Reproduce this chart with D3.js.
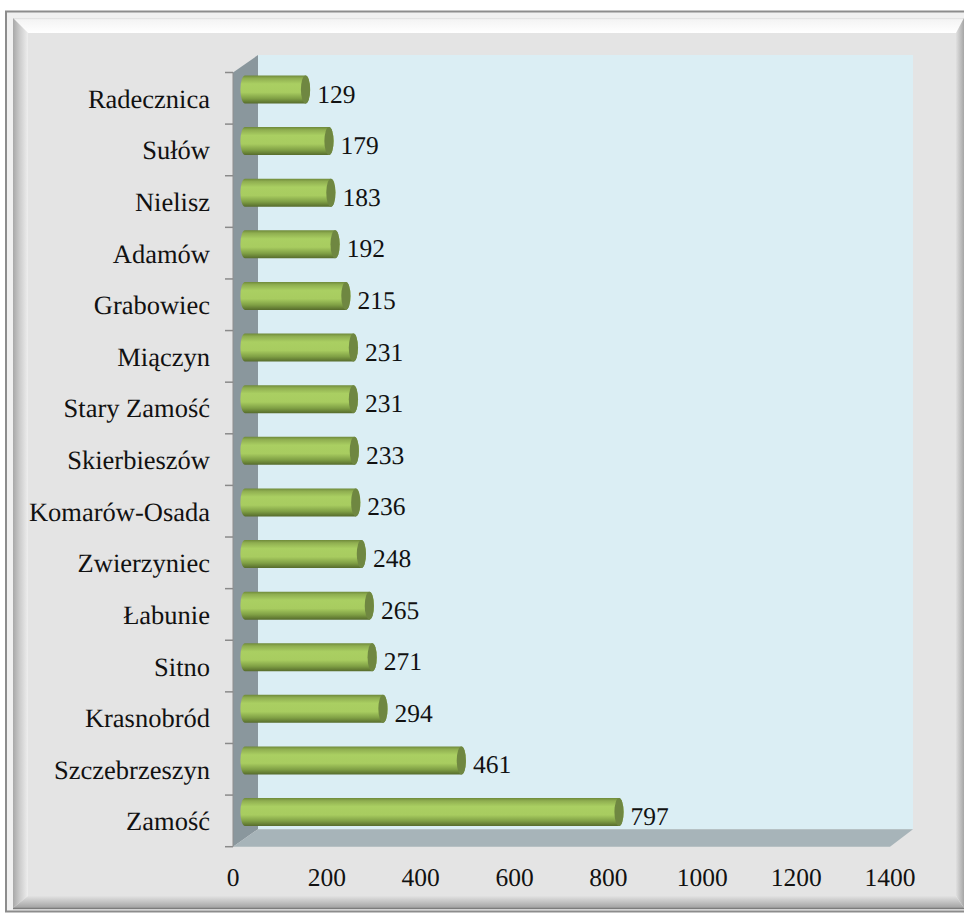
<!DOCTYPE html>
<html>
<head>
<meta charset="utf-8">
<script src="https://cdnjs.cloudflare.com/ajax/libs/d3/7.8.5/d3.min.js"></script>
<style>
  html, body { margin: 0; padding: 0; background: #fff; }
  svg { display: block; }
  text { font-family: "Liberation Serif", serif; font-size: 25.5px; fill: #111; font-kerning: none; text-rendering: geometricPrecision; }
  .cat-label { font-size: 26.5px; }
</style>
</head>
<body>
<svg id="chart" width="964" height="914"></svg>
<script>
const categories = ["Radecznica", "Sułów", "Nielisz", "Adamów", "Grabowiec", "Miączyn", "Stary Zamość",
  "Skierbieszów", "Komarów-Osada", "Zwierzyniec", "Łabunie", "Sitno", "Krasnobród", "Szczebrzeszyn", "Zamość"];
const values = [129, 179, 183, 192, 215, 231, 231, 233, 236, 248, 265, 271, 294, 461, 797];
const xTicks = [0, 200, 400, 600, 800, 1000, 1200, 1400];

const svg = d3.select("#chart");
const defs = svg.append("defs");

function gradient(id, horizontal, stops) {
  const g = defs.append("linearGradient").attr("id", id)
    .attr("x1", 0).attr("y1", 0)
    .attr("x2", horizontal ? 1 : 0).attr("y2", horizontal ? 0 : 1);
  stops.forEach(([o, c]) => g.append("stop").attr("offset", o).attr("stop-color", c));
}

gradient("bevelLeft", true, [[0, "#a8a8a8"], [0.5, "#cfcfcf"], [1, "#eeeeee"]]);
gradient("bevelTop", false, [[0, "#dcdcdc"], [0.12, "#f4f4f4"], [1, "#ffffff"]]);
gradient("bevelRight", true, [[0, "#e0e0e0"], [1, "#a6a6a6"]]);
gradient("bevelBottom", false, [[0, "#e2e2e2"], [1, "#a2a2a2"]]);
gradient("barFill", false, [[0, "#6f8a3a"], [0.1, "#8fae50"], [0.3, "#aacf62"], [0.6, "#a8cc60"], [0.82, "#80a045"], [1, "#566b2c"]]);

// frame
const frame = svg.append("g");
frame.append("rect").attr("x", 6).attr("y", 11.5).attr("width", 960).attr("height", 900)
  .attr("fill", "#f0f0f0").attr("stroke", "#8c8c8c").attr("stroke-width", 2);
const L = 13, T = 18, R = 964, B = 908, iL = 28, iT = 33, iR = 956, iB = 896;
frame.append("polygon").attr("points", `${L},${T} ${R},${T} ${iR},${iT} ${iL},${iT}`).attr("fill", "url(#bevelTop)");
frame.append("polygon").attr("points", `${L},${T} ${iL},${iT} ${iL},${iB} ${L},${B}`).attr("fill", "url(#bevelLeft)");
frame.append("polygon").attr("points", `${R},${T} ${iR},${iT} ${iR},${iB} ${R},${B}`).attr("fill", "url(#bevelRight)");
frame.append("polygon").attr("points", `${L},${B} ${iL},${iB} ${iR},${iB} ${R},${B}`).attr("fill", "url(#bevelBottom)");
frame.append("rect").attr("x", iL).attr("y", iT).attr("width", iR - iL).attr("height", iB - iT).attr("fill", "#e4e4e4");
frame.append("line").attr("x1", L).attr("x2", R).attr("y1", 908.5).attr("y2", 908.5).attr("stroke", "#7c7c7c").attr("stroke-width", 1.5);

// scales: front plane of the 3D box, the bars sit depth px inside it
const x = d3.scaleLinear().domain([0, 1400]).range([233, 890]);
const y = d3.scaleBand().domain(categories).range([72.5, 846.7]);
const depthX = 25, depthY = 17.5, backRight = 23;
const barDx = 12, barDy = -8.8, barH = 28, capRx = 4.6;

// 3D walls
const plot = svg.append("g");
const x0 = x(0), x1 = x(1400), yTop = y.range()[0], yBot = y.range()[1];
plot.append("rect").attr("x", x0 + depthX).attr("y", yTop - depthY)
  .attr("width", x1 + backRight - x0 - depthX).attr("height", yBot - yTop).attr("fill", "#dbeef4");
plot.append("polygon")
  .attr("points", `${x0},${yTop} ${x0 + depthX},${yTop - depthY} ${x0 + depthX},${yBot - depthY} ${x0},${yBot}`)
  .attr("fill", "#8a979d");
plot.append("polygon")
  .attr("points", `${x0},${yBot} ${x0 + depthX},${yBot - depthY} ${x1 + backRight},${yBot - depthY} ${x1},${yBot}`)
  .attr("fill", "#a7b4b9");

// ticks on the category axis
plot.append("line").attr("x1", x0).attr("x2", x0).attr("y1", yTop).attr("y2", yBot).attr("stroke", "#8f8f8f");
plot.selectAll(".cat-tick")
  .data(categories.map((c) => y(c)).concat([yBot]))
  .join("line")
  .attr("class", "cat-tick")
  .attr("x1", x0 - 8).attr("x2", x0)
  .attr("y1", (d) => d).attr("y2", (d) => d)
  .attr("stroke", "#8a8a8a").attr("stroke-width", 1.5);

// category labels
plot.selectAll(".cat-label")
  .data(categories)
  .join("text")
  .attr("class", "cat-label")
  .attr("text-anchor", "end")
  .attr("x", 210)
  .attr("y", (d) => y(d) + y.bandwidth() / 2 + 9.5)
  .text((d) => d);

// x axis labels
plot.selectAll(".x-label")
  .data(xTicks)
  .join("text")
  .attr("class", "x-label")
  .attr("text-anchor", "middle")
  .attr("x", (d) => x(d))
  .attr("y", 886)
  .text((d) => d);

// bars
const rows = categories.map((c, i) => ({ name: c, value: values[i] }));
const bars = plot.selectAll(".bar").data(rows).join("g").attr("class", "bar")
  .attr("transform", (d) => `translate(0,${y(d.name) + y.bandwidth() / 2 + barDy})`);

bars.append("path")
  .attr("d", (d) => {
    const a = x(0) + barDx, b = x(d.value) + barDx, h = barH / 2;
    return `M${a},${-h} L${b},${-h} A${capRx},${h} 0 0 1 ${b},${h} L${a},${h} A${capRx},${h} 0 0 1 ${a},${-h} Z`;
  })
  .attr("fill", "url(#barFill)");

bars.append("ellipse")
  .attr("cx", (d) => x(d.value) + barDx)
  .attr("cy", 0)
  .attr("rx", capRx)
  .attr("ry", barH / 2)
  .attr("fill", "#6f8741");

bars.append("text")
  .attr("class", "value-label")
  .attr("x", (d) => x(d.value) + barDx + capRx + 7)
  .attr("y", 13)
  .text((d) => d.value);
</script>
</body>
</html>
